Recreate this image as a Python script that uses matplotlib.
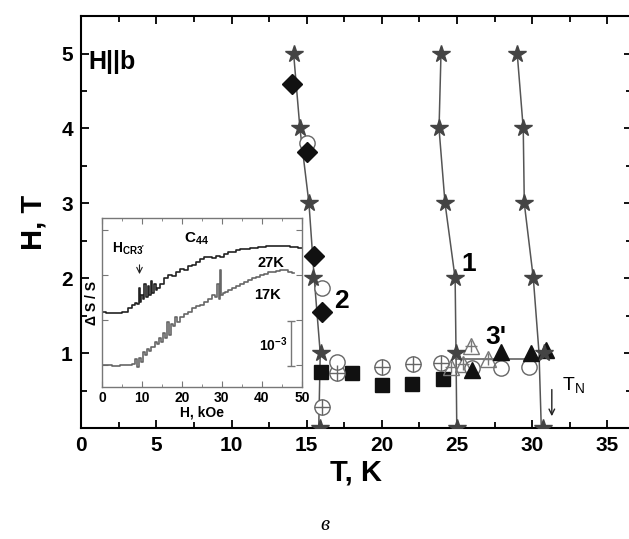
import matplotlib.pyplot as plt
from matplotlib.ticker import MultipleLocator

plt.rcParams['font.family'] = ['Liberation Sans', 'DejaVu Sans']

# phase boundaries (stars), H in T, T in K
H_st = [0, 1, 2, 3, 4, 5]
T_st2 = [15.9, 15.93, 15.4, 15.15, 14.55, 14.13]
T_st1 = [25.0, 24.93, 24.87, 24.2, 23.8, 23.93]
T_st3 = [30.7, 30.8, 30.07, 29.47, 29.4, 29.0]

# guide lines through the boundaries
T_ln2 = [15.8, 15.9, 15.5, 15.15, 14.55, 14.13]
T_ln1 = [24.98, 24.93, 24.87, 24.2, 23.8, 23.93]
T_ln3 = [30.6, 30.45, 30.07, 29.47, 29.4, 29.0]
T_ln3p = [24.93, 30.45]
H_ln3p = [0.92, 0.92]

T_dia = [14.04, 15.0, 15.5, 16.04]
H_dia = [4.59, 3.68, 2.3, 1.55]

T_oc = [15.0, 16.0, 17.0, 26.0, 27.93, 29.8]
H_oc = [3.8, 1.87, 0.88, 0.8, 0.8, 0.82]

T_xc = [16.04, 17.0, 20.04, 22.04, 23.93]
H_xc = [0.28, 0.74, 0.82, 0.86, 0.87]

T_sq = [15.98, 17.98, 20.0, 21.98, 24.04]
H_sq = [0.75, 0.73, 0.57, 0.59, 0.65]

T_otri = [24.6, 25.4, 25.93, 27.04]
H_otri = [0.82, 0.85, 1.1, 0.92]

T_ftri = [26.0, 27.93, 29.93, 30.93]
H_ftri = [0.77, 1.02, 1.0, 1.04]

# inset: sound velocity change vs field, units of 1e-3
H27 = [0, 2, 4, 6, 7, 8, 8.5, 9, 9.3, 9.6, 10, 10.4, 10.8, 11.2, 11.6, 12,
       12.4, 12.8, 13.2, 13.6, 14, 15, 16, 17, 18, 19, 20, 21, 22, 23, 24,
       25, 26, 27, 28, 29, 30, 31, 32, 33, 34, 35, 36, 38, 40, 42, 44, 46,
       48, 50]
y27 = [1.67, 1.65, 1.64, 1.68, 1.75, 1.82, 1.88, 1.85, 2.2, 1.9, 2.05, 1.95,
       2.3, 2.0, 2.25, 2.05, 2.35, 2.1, 2.3, 2.15, 2.2, 2.3, 2.42, 2.5, 2.47,
       2.55, 2.62, 2.6, 2.7, 2.72, 2.78, 2.85, 2.9, 2.9, 2.88, 2.92, 2.9,
       2.95, 3.0, 3.0, 3.04, 3.06, 3.08, 3.1, 3.12, 3.13, 3.14, 3.14, 3.12,
       3.1]
H17 = [0, 1, 2, 3, 4, 5, 6, 7, 8, 8.5, 9, 9.5, 10, 10.5, 11, 11.5, 12, 12.5,
       13, 13.5, 14, 14.5, 15, 15.5, 16, 16.5, 17, 17.5, 18, 18.5, 19, 20, 21,
       22, 23, 24, 25, 26, 27, 28, 28.5, 29, 29.3, 29.6, 30, 30.5, 31, 32, 33,
       34, 35, 36, 37, 38, 39, 40, 41, 42, 43, 44, 45, 46, 47, 48]
y17 = [0.5, 0.49, 0.5, 0.47, 0.46, 0.48, 0.5, 0.5, 0.52, 0.62, 0.45, 0.65,
       0.55, 0.78, 0.72, 0.85, 0.8, 0.9, 0.88, 1.0, 0.95, 1.1, 1.0, 1.2, 1.1,
       1.45, 1.15, 1.4, 1.35, 1.55, 1.45, 1.55, 1.62, 1.68, 1.75, 1.8, 1.82,
       1.9, 1.95, 2.05, 2.0, 2.3, 1.95, 2.6, 2.05, 2.1, 2.12, 2.15, 2.2, 2.25,
       2.3, 2.33, 2.38, 2.42, 2.45, 2.5, 2.52, 2.55, 2.56, 2.58, 2.6, 2.6,
       2.56, 2.53]

fig = plt.figure(figsize=(6.29, 5.39), dpi=100)
ax = fig.add_axes([0.129, 0.206, 0.875, 0.764])

lc = '#555555'
for T in (T_ln1, T_ln2, T_ln3):
    ax.plot(T, H_st, color=lc, lw=1.1, zorder=2)
ax.plot(T_ln3p, H_ln3p, color=lc, lw=1.1, zorder=2)

ax.plot(T_sq, H_sq, 's', ms=10, color='#111111', zorder=3)
ax.plot(T_xc, H_xc, 'o', ms=11, mfc='white', mec='#666666', mew=1, zorder=3)
ax.plot(T_xc, H_xc, '+', ms=11, color='#666666', mew=1, zorder=4)
ax.plot(T_oc, H_oc, 'o', ms=11, mfc='white', mec='#666666', mew=1, zorder=3)
ax.plot(T_otri, H_otri, '^', ms=12, mfc='none', mec='#777777', mew=1, zorder=3)
ax.plot(T_otri, H_otri, '+', ms=9, color='#777777', mew=1, zorder=3)
ax.plot(T_ftri, H_ftri, '^', ms=12, color='#111111', zorder=4)
ax.plot(T_dia, H_dia, 'D', ms=10, color='#111111', zorder=4)
for T in (T_st1, T_st2, T_st3):
    ax.plot(T, H_st, '*', ms=13, color='#444444', zorder=5)

ax.set_xlim(0, 36.6)
ax.set_ylim(0, 5.5)
ax.xaxis.set_major_locator(MultipleLocator(5))
ax.xaxis.set_minor_locator(MultipleLocator(2.5))
ax.yaxis.set_major_locator(MultipleLocator(1))
ax.yaxis.set_minor_locator(MultipleLocator(0.5))
ax.set_yticks([1, 2, 3, 4, 5])
ax.tick_params(which='both', direction='in', top=True, right=True, width=1.3)
ax.tick_params(which='major', length=6, labelsize=15, pad=6)
ax.tick_params(which='minor', length=4)
for lab in ax.get_xticklabels() + ax.get_yticklabels():
    lab.set_fontweight('bold')
for s in ax.spines.values():
    s.set_linewidth(1.5)
ax.set_xlabel('T, K', fontsize=21, fontweight='bold', labelpad=2)
ax.set_ylabel('H, T', fontsize=21, fontweight='bold', labelpad=10)

ax.text(0.5, 4.8, 'H||b', fontsize=18, fontweight='bold')
ax.text(25.3, 2.1, '1', fontsize=19, fontweight='bold')
ax.text(16.8, 1.6, '2', fontsize=19, fontweight='bold')
ax.text(26.9, 1.12, "3'", fontsize=19, fontweight='bold')
ax.text(32.0, 0.5, r'T$_\mathregular{N}$', fontsize=14)
ax.annotate('', xy=(31.3, 0.12), xytext=(31.3, 0.55),
            arrowprops=dict(arrowstyle='->', color='#222222', lw=1))

fig.text(0.517, 0.008, 'в', fontsize=15, style='italic', ha='center',
         va='bottom', family=['Liberation Serif', 'DejaVu Serif'])

# inset
ins = fig.add_axes([0.162, 0.282, 0.318, 0.3135])
ins.plot(H27, y27, color='#222222', lw=1.2, drawstyle='steps-mid')
ins.plot(H17, y17, color='#666666', lw=1.2, drawstyle='steps-mid')
ins.set_xlim(0, 50)
ins.set_ylim(0, 3.76)
ins.xaxis.set_major_locator(MultipleLocator(10))
ins.xaxis.set_minor_locator(MultipleLocator(5))
ins.set_yticks([0.5, 1.5, 2.5, 3.5])
ins.set_yticklabels([])
ins.tick_params(which='both', direction='in', top=True, right=True,
                color='#777777')
ins.tick_params(which='major', length=4, labelsize=10, pad=3)
ins.tick_params(which='minor', length=2.5)
for lab in ins.get_xticklabels():
    lab.set_fontweight('bold')
for s in ins.spines.values():
    s.set_color('#777777')
    s.set_linewidth(1)
ins.set_xlabel('H, kOe', fontsize=10, fontweight='bold', labelpad=0)
ins.set_ylabel('Δ S / S', fontsize=10, fontweight='bold', labelpad=-1)

ins.text(2.5, 3.0, r'H$_\mathregular{CR3^\prime}$', fontsize=10,
         fontweight='bold')
ins.annotate('', xy=(9.4, 2.45), xytext=(9.4, 2.78),
             arrowprops=dict(arrowstyle='->', color='#222222', lw=0.8))
ins.text(20.5, 3.23, r'C$_\mathregular{44}$', fontsize=11, fontweight='bold')
ins.text(38.8, 2.66, '27K', fontsize=10.5, fontweight='bold')
ins.text(38.0, 1.95, '17K', fontsize=10.5, fontweight='bold')
ins.errorbar([47.2], [0.97], yerr=[0.5], color='#777777', lw=1, capsize=3)
ins.text(39.3, 0.8, r'10$^\mathregular{-3}$', fontsize=10, fontweight='bold')

fig.savefig('out.png', dpi=100)
